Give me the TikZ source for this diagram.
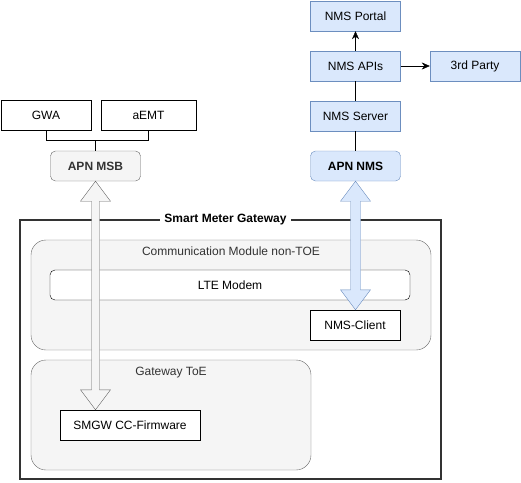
\documentclass[tikz,border=0pt]{standalone}
\usepackage{fontspec}
\setmainfont{Liberation Sans}
\usetikzlibrary{arrows.meta, calc}
\definecolor{grayfill}{HTML}{F5F5F5}
\definecolor{grayline}{HTML}{666666}
\definecolor{darktext}{HTML}{333333}
\definecolor{bluefill}{HTML}{DAE8FC}
\definecolor{blueline}{HTML}{6C8EBF}

\begin{document}
\begin{tikzpicture}[x=1pt, y=-1pt, font=\fontsize{12}{14}\selectfont,
    box/.style={draw, inner sep=0pt, minimum height=30pt, minimum width=90pt},
    bluebox/.style={box, fill=bluefill, draw=blueline},
    apn/.style={box, rounded corners=5pt, font=\fontsize{12}{14}\selectfont\bfseries},
    area/.style={draw=grayline, fill=grayfill, rounded corners=15pt, inner sep=0pt},
    arealbl/.style={text=darktext, inner sep=0pt, anchor=north},
    msbflow/.style={fill=grayfill, draw=grayline, line join=miter},
    nmsflow/.style={fill=bluefill, draw=blueline, line join=miter}]
      \useasboundingbox (0,0) rectangle (521,482);

      % backend side
      \node[box] (gwa) at (46, 115) {GWA};
      \node[box, minimum width=95pt] (emt) at (148.5, 115) {aEMT};
      \node[apn, fill=grayfill, draw=grayline, text=darktext] (msb) at (95.5, 166) {APN MSB};

      \node[bluebox] (portal) at (355.5, 16) {NMS Portal};
      \node[bluebox] (apis) at (355.5, 66) {NMS APIs};
      \node[bluebox] (third) at (475, 66) {3rd Party};
      \node[bluebox] (server) at (355.5, 116) {NMS Server};
      \node[apn, fill=bluefill, draw=blueline] (nms) at (355.5, 166) {APN NMS};

      % gateway
      \node[draw=black!80, line width=1.5pt, inner sep=0pt, minimum width=421pt, minimum height=259pt] (smgw) at (230.5, 349.5) {};
      \node[area, minimum width=400pt, minimum height=110pt] (comm) at (231, 295) {};
      \node[arealbl] (commlbl) at ($(comm.north)+(0,7)$) {Communication Module non-TOE};
      \node[box, fill=white, rounded corners=5pt, minimum width=360pt] (lte) at (230, 285) {LTE Modem};
      \node[box, fill=white] (client) at (355, 325) {NMS-Client};
      \node[area, minimum width=280pt, minimum height=110pt] (toe) at (171, 415) {};
      \node[arealbl] (toelbl) at ($(toe.north)+(0,7)$) {Gateway ToE};
      \node[box, fill=white, minimum width=140pt] (fw) at (130, 425) {SMGW CC-Firmware};

      \draw (gwa.south) -- ++(0,10) -| (msb.north);
      \draw (emt.south) -- ++(0,10) -| (msb.north);
      \draw (nms) -- (server);
      \draw (server) -- (apis);
      \draw[-{Stealth[length=8pt, width=7pt]}] (apis) -- (portal);
      \draw[-{Stealth[length=8pt, width=7pt]}] (apis) -- (third);

      \filldraw[msbflow] (msb.south) -- ++(15,20) -- ++(-11,0)
        -- ($(msb.south |- fw.north)+(4,-20)$) -- ++(11,0) -- (msb.south |- fw.north)
        -- ++(-15,-20) -- ++(11,0) -- ($(msb.south)+(-4,20)$) -- ++(-11,0) -- cycle;
      \filldraw[nmsflow] (nms.south) -- ++(15,20) -- ++(-10,0)
        -- ($(nms.south |- client.north)+(5,-20)$) -- ++(10,0) -- (nms.south |- client.north)
        -- ++(-15,-20) -- ++(10,0) -- ($(nms.south)+(-5,20)$) -- ++(-10,0) -- cycle;

      \node[fill=white, inner xsep=4pt, inner ysep=1pt, font=\fontsize{12}{14}\selectfont\bfseries] (smgwlbl) at ($(smgw.north)+(-5,0)$) {Smart Meter Gateway};
\end{tikzpicture}
\end{document}
